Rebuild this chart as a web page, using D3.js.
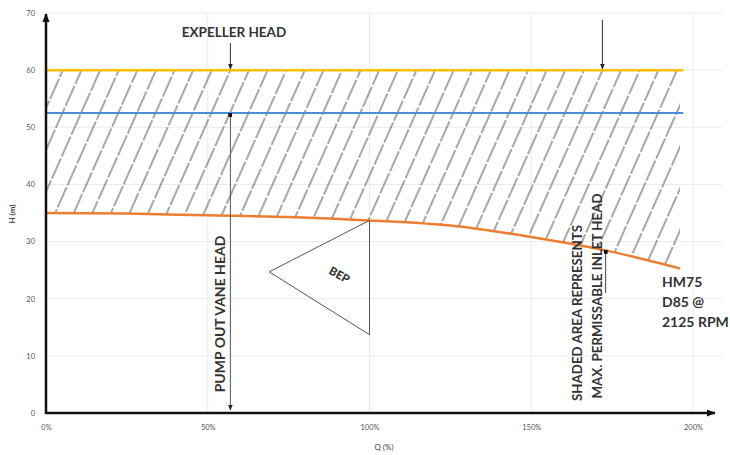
<!DOCTYPE html>
<html><head><meta charset="utf-8">
<script src="https://cdnjs.cloudflare.com/ajax/libs/d3/7.8.5/d3.min.js"></script>
<style>body{margin:0;background:#fff}svg{display:block}</style>
</head><body>
<svg id="c" width="730" height="455"></svg>
<script>
// ---- data ----
const qTicks = [0, 50, 100, 150, 200];
const qTickLabels = ["0%", "50%", "100%", "150%", "200%"];
const hTicks = [0, 10, 20, 30, 40, 50, 60, 70];
const pumpQ = [0, 25, 50, 75, 100, 125, 150, 175, 196];
const pumpH = [35, 34.9, 34.6, 34.3, 33.7, 32.8, 30.8, 28.2, 25.3];
const expellerHead = 60;
const vaneHead = 52.5;
const lineEndQ = 197;
const bepQ = [100, 69, 100];
const bepH = [33.7, 24.7, 13.7];
const vaneArrowQ = 57;
const expellerArrowQ = [57, 172];
const inletArrowQ = 173;
const inletArrowH = [28.2, 21];
const pumpLabel = ["HM75", "D85 @", "2125 RPM"];

// ---- scales ----
const svg = d3.select("#c");
const x = d3.scaleLinear().domain([0, 200]).range([46, 693]);
const y = d3.scaleLinear().domain([0, 70]).range([413, 13]);

const defs = svg.append("defs");
const pat = defs.append("pattern").attr("id", "hatch")
  .attr("patternUnits", "userSpaceOnUse").attr("width", 17).attr("height", 24)
  .attr("patternTransform", "rotate(24)");
pat.append("line").attr("x1", 1).attr("x2", 1).attr("y1", 0).attr("y2", 24)
  .attr("stroke", "#222").attr("stroke-width", 0.8).attr("stroke-dasharray", "22 2");
function marker(id, color, size) {
  defs.append("marker").attr("id", id).attr("viewBox", "0 0 10 10")
    .attr("refX", 9).attr("refY", 5).attr("markerWidth", size).attr("markerHeight", size)
    .attr("orient", "auto").attr("markerUnits", "userSpaceOnUse")
    .append("path").attr("d", "M0,1 L10,5 L0,9 Z").attr("fill", color);
}
marker("arr", "#222", 6);
marker("axarr", "#111", 9);
defs.append("marker").attr("id", "dot").attr("viewBox", "0 0 10 10")
  .attr("refX", 5).attr("refY", 5).attr("markerWidth", 4).attr("markerHeight", 4)
  .attr("markerUnits", "userSpaceOnUse")
  .append("rect").attr("x", 0).attr("y", 0).attr("width", 10).attr("height", 10).attr("fill", "#111");

// grid
const g = svg.append("g");
g.selectAll(".hg").data(hTicks.filter(d => d > 0)).join("line")
  .attr("x1", x(0)).attr("x2", 722).attr("y1", d => y(d)).attr("y2", d => y(d))
  .attr("stroke", "#ebebeb").attr("stroke-width", 1);
g.selectAll(".vg").data(qTicks.filter(d => d > 0)).join("line")
  .attr("x1", d => x(d)).attr("x2", d => x(d)).attr("y1", y(70)).attr("y2", y(0))
  .attr("stroke", "#ebebeb").attr("stroke-width", 1);

// hatched area
const pump = pumpQ.map((q, i) => [q, pumpH[i]]);
const area = d3.area().x(d => x(d[0])).y0(d => y(d[1])).y1(y(expellerHead)).curve(d3.curveMonotoneX);
svg.append("path").datum(pump).attr("d", area).attr("fill", "url(#hatch)");

// lines
const hline = (h, color, w) => svg.append("line").attr("x1", x(0)).attr("x2", x(lineEndQ))
  .attr("y1", y(h)).attr("y2", y(h)).attr("stroke", color).attr("stroke-width", w);
hline(expellerHead, "#FFC000", 2.5);
hline(vaneHead, "#4A8FD4", 1.8);
svg.append("path").datum(pump)
  .attr("d", d3.line().x(d => x(d[0])).y(d => y(d[1])).curve(d3.curveMonotoneX))
  .attr("fill", "none").attr("stroke", "#ED7D31").attr("stroke-width", 2.5);

// BEP triangle
const tri = bepQ.map((q, i) => [x(q), y(bepH[i])]);
svg.append("path").attr("d", d3.line()(tri) + "Z").attr("fill", "none")
  .attr("stroke", "#555").attr("stroke-width", 1);
svg.append("text").attr("transform", `translate(${x(90.5)},${y(24)}) rotate(29)`)
  .attr("text-anchor", "middle").attr("dominant-baseline", "middle")
  .attr("font-family", "Lato, sans-serif").attr("font-weight", "900").attr("font-size", 11.5)
  .attr("fill", "#333").text("BEP");

// axes
svg.append("line").attr("x1", x(0)).attr("x2", x(0)).attr("y1", y(0) + 1).attr("y2", y(70) + 1)
  .attr("stroke", "#111").attr("stroke-width", 2.5).attr("marker-end", "url(#axarr)");
svg.append("line").attr("x1", x(0) - 1).attr("x2", 715).attr("y1", y(0)).attr("y2", y(0))
  .attr("stroke", "#111").attr("stroke-width", 2.5).attr("marker-end", "url(#axarr)");

const yAxis = svg.append("g").attr("transform", `translate(35,0)`)
  .call(d3.axisLeft(y).tickValues(hTicks).tickSize(0).tickFormat(d3.format("d")));
yAxis.select(".domain").remove();
yAxis.selectAll("text").attr("font-family", "Lato, sans-serif").attr("font-size", 7.5).attr("fill", "#555").attr("x", 0);
const xAxis = svg.append("g").attr("transform", `translate(0,${y(0) + 12})`)
  .call(d3.axisBottom(x).tickValues(qTicks).tickSize(0).tickFormat((d, i) => qTickLabels[i]));
xAxis.select(".domain").remove();
xAxis.selectAll("text").attr("font-family", "Lato, sans-serif").attr("font-size", 7.5).attr("fill", "#555").attr("y", 0);

svg.append("text").attr("x", 384).attr("y", 450).attr("text-anchor", "middle")
  .attr("font-family", "Lato, sans-serif").attr("font-size", 8).attr("fill", "#444").text("Q (%)");
svg.append("text").attr("transform", "translate(15,214) rotate(-90)").attr("text-anchor", "middle")
  .attr("font-family", "Lato, sans-serif").attr("font-size", 8).attr("font-weight", "bold").attr("fill", "#444").text("H (m)");

// annotations
const lbl = (s) => s.attr("font-family", "Lato, sans-serif").attr("font-weight", "bold").attr("fill", "#333");
lbl(svg.append("text").attr("x", 234).attr("y", 37).attr("text-anchor", "middle").attr("font-size", 13.5)).text("EXPELLER HEAD");
svg.selectAll(".ea").data(expellerArrowQ).join("line")
  .attr("x1", d => x(d)).attr("x2", d => x(d)).attr("y1", (d, i) => i === 0 ? 43 : 20).attr("y2", y(expellerHead) - 1)
  .attr("stroke", "#333").attr("stroke-width", 1).attr("marker-end", "url(#arr)");

svg.append("line").attr("x1", x(vaneArrowQ)).attr("x2", x(vaneArrowQ)).attr("y1", y(vaneHead) + 2).attr("y2", y(0) - 3)
  .attr("stroke", "#555").attr("stroke-width", 1).attr("marker-start", "url(#dot)").attr("marker-end", "url(#arr)");
lbl(svg.append("text").attr("transform", `translate(225,314) rotate(-90)`).attr("text-anchor", "middle").attr("font-size", 14)).text("PUMP OUT VANE HEAD");

svg.append("line").attr("x1", x(inletArrowQ)).attr("x2", x(inletArrowQ)).attr("y1", y(inletArrowH[0])).attr("y2", y(inletArrowH[1]))
  .attr("stroke", "#444").attr("stroke-width", 1).attr("marker-start", "url(#dot)");
lbl(svg.append("text").attr("transform", `translate(582,313) rotate(-90)`).attr("text-anchor", "middle").attr("font-size", 13.3)).text("SHADED AREA REPRESENTS");
lbl(svg.append("text").attr("transform", `translate(602,296) rotate(-90)`).attr("text-anchor", "middle").attr("font-size", 13.3)).text("MAX. PERMISSABLE INLET HEAD");

svg.selectAll(".pl").data(pumpLabel).join("text")
  .attr("x", 662).attr("y", (d, i) => 287 + i * 20)
  .attr("font-family", "Lato, sans-serif").attr("font-weight", "bold").attr("font-size", 14).attr("fill", "#333")
  .text(d => d);
</script>
</body></html>
